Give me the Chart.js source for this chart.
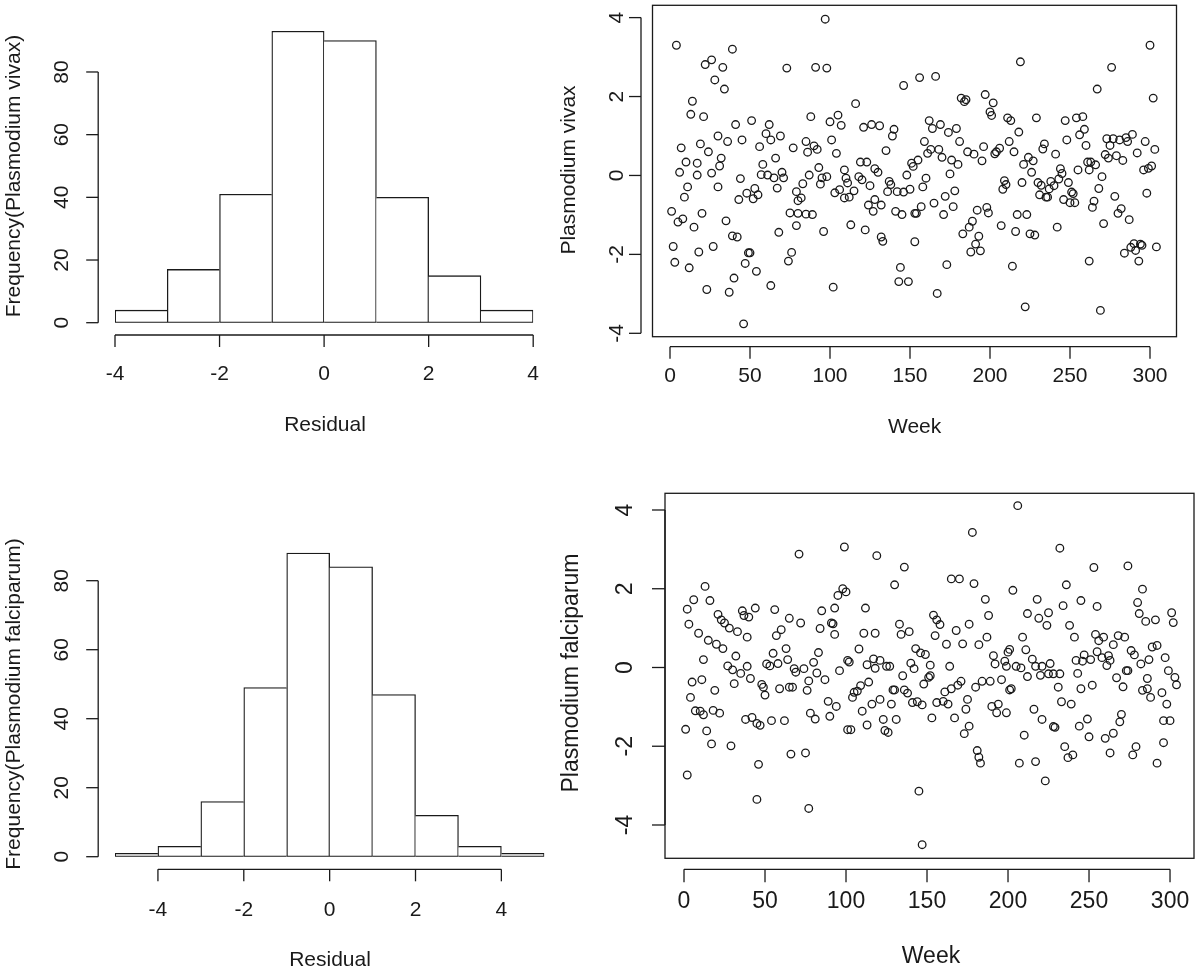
<!DOCTYPE html>
<html>
<head>
<meta charset="utf-8">
<script src="https://cdn.jsdelivr.net/npm/chart.js@4.4.0/dist/chart.umd.min.js"></script>
<style>
  html, body { margin: 0; padding: 0; background: #fff; }
  #wrap { position: relative; width: 1200px; height: 971px; }
  #wrap canvas { position: absolute; left: 0; top: 0; }
</style>
</head>
<body>
<div id="wrap">
  <canvas id="histVivax" width="1200" height="971"></canvas>
  <canvas id="scatVivax" width="1200" height="971"></canvas>
  <canvas id="histFalc" width="1200" height="971"></canvas>
  <canvas id="scatFalc" width="1200" height="971"></canvas>
</div>
<script>
// histogram bins (residual, width 1) and counts
const vivaxBins = [-3.5, -2.5, -1.5, -0.5, 0.5, 1.5, 2.5, 3.5];
const vivaxCounts = [4, 17, 41, 93, 90, 40, 15, 4];
const falcBins = [-4.5, -3.5, -2.5, -1.5, -0.5, 0.5, 1.5, 2.5, 3.5, 4.5];
const falcCounts = [1, 3, 16, 49, 88, 84, 47, 12, 3, 1];

// tick labels
const vivaxHistTicksX = [-4, -2, 0, 2, 4];
const falcHistTicksX = [-4, -2, 0, 2, 4];
const histTicksY = [0, 20, 40, 60, 80];
const weekTicks = [0, 50, 100, 150, 200, 250, 300];
const residTicks = [-4, -2, 0, 2, 4];

// weekly residuals, Plasmodium vivax
const vivaxWeek = [
  4, 39, 26, 22, 33, 28, 34, 14, 13, 21, 41, 51, 62, 60, 69, 63, 30, 36, 45, 56, 19, 24, 7, 32, 31, 10, 17, 66, 58, 6,
  17, 26, 57, 61, 65, 70, 71, 44, 67, 11, 30, 9, 43, 48, 53, 55, 52, 1, 5, 8, 20, 15, 35, 39, 42, 68, 2, 3, 12, 18,
  27, 49, 50, 47, 54, 40, 23, 37, 63, 46,
  97, 73, 91, 98, 146, 116, 88, 105, 100, 107, 121, 126, 131, 140, 139, 77, 85, 86, 90, 92, 101, 104, 135, 119, 123, 93, 87, 95, 98, 94,
  109, 110, 111, 118, 120, 128, 130, 125, 137, 138, 148, 151, 152, 83, 79, 82, 80, 103, 106, 109, 112, 115, 124, 128, 132, 127, 136, 142, 146, 150,
  141, 145, 153, 75, 80, 85, 89, 79, 96, 113, 122, 132, 133, 153, 76, 74, 144, 143, 149, 102,
  219, 156, 166, 197, 202, 182, 184, 185, 200, 201, 211, 213, 229, 218, 162, 164, 169, 174, 179, 181, 159, 161, 163, 168, 170, 176, 180, 186, 190, 195,
  196, 203, 204, 206, 212, 215, 155, 175, 160, 158, 178, 172, 165, 177, 171, 157, 154, 192, 198, 199, 189, 187, 183, 193, 191, 188, 194, 207, 209, 208,
  210, 220, 216, 217, 223, 225, 228, 221, 224, 227, 226, 234, 233, 230, 232, 231, 236, 173, 214, 167, 222,
  300, 276, 267, 302, 247, 254, 258, 256, 259, 248, 260, 241, 273, 277, 275, 281, 285, 286, 289, 297, 303, 292, 272, 274, 279, 283, 261, 263, 266, 262,
  255, 244, 245, 296, 299, 301, 270, 268, 249, 243, 238, 240, 237, 235, 251, 252, 246, 250, 253, 265, 264, 278, 282, 280, 287, 298, 271, 242, 284, 288,
  290, 294, 295, 291, 304, 293, 262, 269
];
const vivaxResid = [
  3.30, 3.20, 2.93, 2.81, 2.74, 2.42, 2.19, 1.88, 1.55, 1.49, 1.29, 1.39, 1.29, 1.06, 1.00, 0.90, 1.00, 0.86, 0.90, 0.73, 0.80, 0.60, 0.70, 0.44, 0.24, 0.34, 0.31, 0.44, 0.28, 0.08,
  0.01, 0.06, 0.02, 0.01, -0.06, 0.08, -0.06, -0.08, -0.32, -0.29, -0.29, -0.55, -0.61, -0.45, -0.33, -0.49, -0.59, -0.91, -1.18, -1.10, -0.96, -1.31, -1.15, -1.53, -1.56, -1.44, -1.80, -2.20, -2.34, -1.94,
  -1.80, -1.96, -1.96, -2.23, -2.43, -2.60, -2.89, -2.96, -2.79, -3.76,
  3.96, 2.72, 2.74, 2.72, 2.28, 1.82, 1.49, 1.53, 1.36, 1.27, 1.22, 1.29, 1.26, 1.17, 1.00, 0.70, 0.86, 0.59, 0.75, 0.66, 0.90, 0.56, 0.63, 0.34, 0.34, 0.20, 0.01, -0.06, -0.03, -0.22,
  0.14, -0.07, -0.19, -0.03, -0.11, 0.17, 0.08, -0.26, -0.15, -0.23, 0.01, 0.31, 0.23, -0.21, -0.41, -0.57, -0.64, -0.44, -0.36, -0.57, -0.55, -0.39, -0.75, -0.61, -0.75, -0.91, -0.41, -0.41, -0.42, -0.35,
  -0.91, -0.99, -0.96, -0.95, -0.96, -0.98, -0.99, -1.27, -1.42, -1.25, -1.38, -1.56, -1.67, -1.68, -1.95, -2.17, -2.33, -2.69, -2.69, -2.83,
  2.88, 2.48, 2.51, 2.05, 1.84, 1.96, 1.87, 1.92, 1.61, 1.52, 1.46, 1.39, 1.46, 1.10, 1.39, 1.19, 1.29, 1.09, 1.19, 0.86, 0.86, 0.56, 0.66, 0.66, 0.46, 0.39, 0.28, 0.60, 0.54, 0.37,
  0.73, 0.55, 0.60, 0.69, 0.86, 0.60, 0.39, 0.04, -0.07, -0.29, -0.39, -0.53, -0.70, -0.79, -0.99, -0.79, -0.96, -0.88, -0.81, -0.95, -1.16, -1.31, -1.48, -1.54, -1.74, -1.94, -1.91, -1.27, -0.13, -0.35,
  -0.23, -0.18, -1.42, -0.99, -0.99, -1.48, -1.51, 0.28, 0.46, 0.37, 0.08, 0.80, 0.67, -0.18, -0.25, -0.49, -0.55, -2.26, -2.30, -2.99, -3.33,
  3.30, 2.74, 2.19, 1.96, 1.39, 1.46, 1.49, 1.03, 1.17, 0.90, 0.76, 0.54, 0.93, 0.93, 0.76, 0.90, 0.96, 0.86, 1.04, 0.86, 0.66, 0.57, 0.53, 0.44, 0.50, 0.38, 0.34, 0.34, 0.27, 0.14,
  0.14, 0.17, 0.05, 0.14, 0.18, 0.24, -0.03, -0.33, -0.18, -0.09, -0.15, -0.26, -0.34, -0.55, -0.42, -0.46, -0.61, -0.69, -0.69, -0.65, -0.81, -0.53, -0.84, -0.96, -1.12, -0.45, -1.22, -1.31, -1.97, -1.82,
  -1.73, -1.74, -1.77, -1.90, -1.81, -2.17, -2.17, -3.42
];

// weekly residuals, Plasmodium falciparum
const falcWeek = [
  71, 13, 6, 16, 2, 3, 9, 15, 21, 23, 25, 28, 33, 39, 36, 37, 40, 44, 56, 65, 60, 57, 72, 20, 24, 12, 32, 63, 64, 55,
  58, 51, 53, 27, 30, 39, 35, 31, 41, 48, 49, 50, 68, 69, 65, 67, 59, 5, 11, 19, 4, 7, 10, 12, 18, 22, 38, 42, 45, 47,
  54, 62, 1, 14, 17, 29, 66, 46, 2, 45,
  99, 119, 136, 130, 98, 100, 95, 85, 93, 112, 84, 91, 92, 93, 111, 118, 133, 134, 139, 83, 108, 143, 146, 149, 80, 74, 82, 77, 76, 87,
  96, 101, 102, 113, 117, 118, 121, 125, 127, 109, 114, 107, 105, 104, 89, 94, 78, 81, 90, 110, 116, 121, 128, 129, 130, 136, 138, 135, 140, 142,
  148, 152, 141, 144, 147, 153, 101, 103, 113, 123, 131, 124, 126, 75, 77, 145, 147,
  206, 178, 232, 165, 170, 179, 203, 186, 218, 212, 219, 225, 224, 188, 176, 154, 156, 158, 155, 168, 162, 172, 182, 187, 201, 200, 209, 211, 191, 192,
  198, 199, 205, 208, 212, 215, 217, 221, 226, 220, 225, 228, 231, 152, 164, 151, 171, 169, 165, 161, 160, 156, 163, 167, 175, 174, 180, 184, 189, 196,
  201, 202, 190, 194, 193, 199, 216, 221, 228, 229, 176, 173, 210, 181, 182, 183, 207, 217, 223,
  253, 274, 236, 283, 234, 245, 255, 280, 281, 285, 291, 301, 302, 238, 241, 254, 256, 259, 265, 268, 272, 276, 278, 289, 292, 297, 299, 303, 304, 247,
  242, 246, 251, 255, 258, 262, 261, 263, 282, 287, 273, 274, 243, 232, 267, 271, 245, 252, 286, 283, 286, 288, 295, 298, 233, 239, 249, 244, 250, 260,
  265, 269, 270, 296, 300, 296, 235, 237, 240, 263, 279, 277, 292
];
const falcResid = [
  2.88, 2.06, 1.72, 1.70, 1.48, 1.10, 0.87, 0.69, 1.35, 1.21, 1.13, 1.00, 0.91, 0.77, 1.44, 1.32, 1.28, 1.51, 1.47, 1.25, 0.96, 0.81, 1.13, 0.59, 0.48, 0.20, 0.29, 0.48, 0.20, 0.36,
  0.10, 0.09, 0.04, 0.04, -0.06, 0.03, -0.15, -0.41, -0.28, -0.43, -0.50, -0.70, -0.03, -0.12, -0.50, -0.50, -0.54, -0.37, -0.31, -0.58, -0.76, -1.10, -1.11, -1.20, -1.09, -1.16, -1.32, -1.27, -1.42, -1.47,
  -1.35, -1.35, -1.57, -1.61, -1.94, -1.99, -2.20, -2.46, -2.73, -3.35,
  3.06, 2.84, 2.55, 2.10, 2.00, 1.92, 1.83, 1.44, 1.51, 1.51, 0.99, 1.13, 1.11, 0.84, 0.87, 0.87, 1.10, 0.84, 0.91, 0.38, 0.47, 0.48, 0.37, 0.33, 0.13, -0.03, -0.14, -0.34, -0.58, -0.31,
  -0.08, 0.18, 0.14, 0.07, 0.22, -0.02, 0.18, 0.03, 0.03, -0.46, -0.37, -0.60, -0.63, -0.76, -0.86, -0.99, -1.16, -1.31, -1.24, -1.11, -0.93, -0.81, -0.93, -0.57, -0.57, -0.57, -0.65, -0.21, 0.11, -0.03,
  -0.42, -0.21, -0.89, -0.87, -0.95, -1.28, -1.58, -1.58, -1.46, -1.32, -1.32, -1.60, -1.65, -2.17, -3.58, -3.14, -4.50,
  4.11, 3.43, 3.03, 2.25, 2.25, 2.13, 1.96, 1.73, 1.73, 1.37, 1.25, 1.39, 1.07, 1.32, 1.10, 1.33, 1.21, 1.09, 0.81, 0.94, 0.59, 0.60, 0.58, 0.77, 0.46, 0.39, 0.77, 0.45, 0.30, 0.09,
  0.16, 0.03, 0.03, -0.01, -0.23, 0.21, 0.03, 0.03, 0.10, -0.20, -0.16, -0.16, -0.50, 0.06, 0.03, -0.25, -0.35, -0.45, -0.54, -0.62, -0.86, -0.89, -0.93, -1.28, -0.81, -1.06, -0.50, -0.35, -0.35, -0.31,
  -0.57, -0.54, -0.99, -0.93, -1.15, -1.15, -1.06, -1.32, -1.50, -1.52, -1.49, -1.68, -1.72, -2.11, -2.28, -2.43, -2.43, -2.39, -2.88,
  2.54, 2.58, 2.10, 1.99, 1.57, 1.70, 1.55, 1.65, 1.37, 1.17, 1.21, 1.39, 1.14, 1.07, 0.77, 0.84, 0.68, 0.77, 0.58, 0.81, 0.77, 0.43, 0.32, 0.52, 0.56, 0.25, -0.08, -0.25, -0.44, 0.32,
  0.18, 0.16, 0.20, 0.40, 0.25, 0.30, 0.05, 0.18, 0.09, 0.20, -0.08, -0.08, -0.15, -0.16, -0.26, -0.49, -0.54, -0.45, -0.28, -0.58, -0.54, -0.76, -0.64, -0.93, -0.87, -0.93, -1.31, -1.49, -1.76, -1.80,
  -1.67, -1.38, -1.19, -1.35, -1.35, -1.91, -2.01, -2.29, -2.22, -2.17, -2.01, -2.22, -2.43
];

const FONT = '"Liberation Sans", Arial, Helvetica, sans-serif';
const LW = 1.3;

// R-style axes drawn from the chart's own scales
const rAxes = {
  id: 'rAxes',
  afterDraw(chart, args, o) {
    const ctx = chart.ctx, a = chart.chartArea;
    const xs = chart.scales.x, ys = chart.scales.y;
    ctx.save();
    ctx.strokeStyle = '#1a1a1a';
    ctx.fillStyle = '#1a1a1a';
    ctx.lineWidth = LW;
    ctx.font = o.size + 'px ' + FONT;
    const line = (x1, y1, x2, y2) => { ctx.beginPath(); ctx.moveTo(x1, y1); ctx.lineTo(x2, y2); ctx.stroke(); };

    if (o.box) ctx.strokeRect(a.left, a.top, a.width, a.height);

    // x axis
    const xp = o.xTicks.map(v => xs.getPixelForValue(v));
    line(xp[0], o.xLineY, xp[xp.length - 1], o.xLineY);
    ctx.textAlign = 'center';
    ctx.textBaseline = 'middle';
    xp.forEach((p, i) => {
      line(p, o.xLineY, p, o.xLineY + o.tick);
      ctx.fillText(String(o.xTicks[i]), p, o.xLabelY);
    });
    ctx.fillText(o.xTitle, o.xTitlePos[0], o.xTitlePos[1]);

    // y axis
    const yp = o.yTicks.map(v => ys.getPixelForValue(v));
    line(o.yLineX, yp[0], o.yLineX, yp[yp.length - 1]);
    yp.forEach((p, i) => {
      line(o.yLineX, p, o.yLineX - o.tick, p);
      ctx.save();
      ctx.translate(o.yLabelX, p);
      ctx.rotate(-Math.PI / 2);
      ctx.fillText(String(o.yTicks[i]), 0, 0);
      ctx.restore();
    });
    ctx.save();
    ctx.translate(o.yTitlePos[0], o.yTitlePos[1]);
    ctx.rotate(-Math.PI / 2);
    ctx.fillText(o.yTitle, 0, 0);
    ctx.restore();
    ctx.restore();
  }
};

function histChart(id, bins, counts, xMin, xMax, pad, axes) {
  const last = counts.length - 1;
  // shared edges are drawn once, by the taller of the two bars
  const sides = c => {
    const i = c.dataIndex;
    const left = (i === 0 || counts[i] > counts[i - 1]) ? LW : 0;
    const right = (i === last || counts[i] >= counts[i + 1]) ? LW : 0;
    return { top: LW, bottom: LW, left: left, right: right };
  };
  return new Chart(document.getElementById(id), {
    type: 'bar',
    data: {
      datasets: [{
        data: bins.map((b, i) => ({ x: b, y: counts[i] })),
        backgroundColor: '#ffffff',
        borderColor: '#1a1a1a',
        borderSkipped: false,
        borderWidth: sides,
        barPercentage: 1,
        categoryPercentage: 1
      }]
    },
    options: {
      responsive: false,
      animation: false,
      layout: { padding: pad },
      plugins: { legend: { display: false }, tooltip: { enabled: false }, rAxes: axes },
      scales: {
        x: { type: 'linear', display: false, min: xMin, max: xMax, offset: false },
        y: { display: false, min: 0, max: 100 }
      }
    },
    plugins: [rAxes]
  });
}

function scatterChart(id, weeks, resid, xr, yr, pad, axes) {
  return new Chart(document.getElementById(id), {
    type: 'scatter',
    data: {
      datasets: [{
        data: weeks.map((w, i) => ({ x: w, y: resid[i] })),
        pointStyle: 'circle',
        pointRadius: axes.pointR,
        pointBorderWidth: LW,
        borderColor: '#1a1a1a',
        backgroundColor: 'rgba(0,0,0,0)'
      }]
    },
    options: {
      responsive: false,
      animation: false,
      layout: { padding: pad },
      plugins: { legend: { display: false }, tooltip: { enabled: false }, rAxes: axes },
      scales: {
        x: { type: 'linear', display: false, min: xr[0], max: xr[1] },
        y: { type: 'linear', display: false, min: yr[0], max: yr[1] }
      }
    },
    plugins: [rAxes]
  });
}

histChart('histVivax', vivaxBins, vivaxCounts, -4, 4,
  { left: 115, right: 666.8, top: 9.3, bottom: 648.3 },
  { size: 21, tick: 12,
    xTicks: vivaxHistTicksX, xLineY: 335, xLabelY: 374, xTitle: 'Residual', xTitlePos: [325, 425],
    yTicks: histTicksY, yLineX: 98.2, yLabelX: 62.5, yTitle: 'Frequency(Plasmodium vivax)', yTitlePos: [14.5, 176] });

histChart('histFalc', falcBins, falcCounts, -5, 5,
  { left: 115, right: 655.7, top: 511.7, bottom: 114.3 },
  { size: 21, tick: 12,
    xTicks: falcHistTicksX, xLineY: 869.3, xLabelY: 910, xTitle: 'Residual', xTitlePos: [330, 960],
    yTicks: histTicksY, yLineX: 98.2, yLabelX: 62.5, yTitle: 'Frequency(Plasmodium falciparum)', yTitlePos: [14.5, 704] });

scatterChart('scatVivax', vivaxWeek, vivaxResid, [-10.94, 316.56], [-4.086, 4.312],
  { left: 652.5, right: 23.5, top: 3.3, bottom: 634.3 },
  { size: 21, tick: 12, box: true, pointR: 3.8,
    xTicks: weekTicks, xLineY: 346.7, xLabelY: 376, xTitle: 'Week', xTitlePos: [914.6, 427],
    yTicks: residTicks, yLineX: 641, yLabelX: 617, yTitle: 'Plasmodium vivax', yTitlePos: [569.5, 170] });

scatterChart('scatFalc', falcWeek, falcResid, [-11.73, 314.8], [-4.846, 4.424],
  { left: 665, right: 6, top: 493.3, bottom: 112.7 },
  { size: 23, tick: 13, box: true, pointR: 3.8,
    xTicks: weekTicks, xLineY: 869.3, xLabelY: 901.7, xTitle: 'Week', xTitlePos: [931, 956.7],
    yTicks: residTicks, yLineX: 665, yLabelX: 626, yTitle: 'Plasmodium falciparum', yTitlePos: [571.6, 673] });
</script>
</body>
</html>
